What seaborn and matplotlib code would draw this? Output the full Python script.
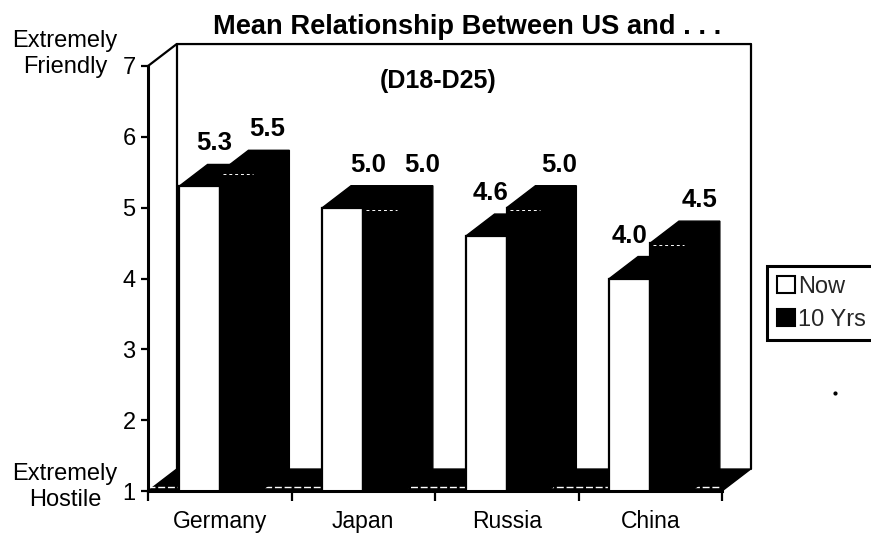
import matplotlib
matplotlib.use("Agg")
import matplotlib.pyplot as plt
import pandas as pd
import seaborn as sns
from matplotlib.lines import Line2D
from matplotlib.patches import Patch, Polygon

countries = ["Germany", "Japan", "Russia", "China"]
now_values = [5.3, 5.0, 4.6, 4.0]
ten_yr_values = [5.5, 5.0, 5.0, 4.5]
series_names = ["Now", "10 Yrs"]
y_ticks = [1, 2, 3, 4, 5, 6, 7]

# hand placed value labels, pixels right of each bar centre
now_label_dx = [15, 25, 4, 0]
ten_yr_label_dx = [27, 38, 32, 29]

W, H = 871, 533
DEPTH_X = 0.2
DEPTH_Y = 0.31
FLOOR = 1
TOP = 7

df = pd.DataFrame({
    "country": countries * 2,
    "value": now_values + ten_yr_values,
    "series": [series_names[0]] * 4 + [series_names[1]] * 4,
})

sns.set_theme(style="ticks")
plt.rcParams["font.family"] = ["Liberation Sans", "DejaVu Sans"]

fig = plt.figure(figsize=(W / 100, H / 100), dpi=100)
ax = fig.add_axes([148 / W, (H - 491) / H, 574 / W, 425 / H])

sns.barplot(
    data=df, x="country", y="value", hue="series", hue_order=series_names,
    palette=["white", "black"], width=0.57, gap=0, dodge=True,
    edgecolor="black", linewidth=1.6, legend=False, ax=ax, zorder=4,
)
ax.set_xlim(-0.5, 3.5)
ax.set_ylim(FLOOR, TOP)

# floor and back wall outline
ax.add_patch(Polygon(
    [(-0.5, FLOOR), (-0.5 + DEPTH_X, FLOOR + DEPTH_Y),
     (3.5 + DEPTH_X, FLOOR + DEPTH_Y), (3.5, FLOOR)],
    closed=True, fc="black", ec="black", lw=1, clip_on=False, zorder=1,
))
ax.plot([-0.5 + DEPTH_X] * 2, [FLOOR + DEPTH_Y, TOP + DEPTH_Y], color="black", lw=1.6, clip_on=False, zorder=1)
ax.plot([3.5 + DEPTH_X] * 2, [FLOOR + DEPTH_Y, TOP + DEPTH_Y], color="black", lw=1.6, clip_on=False, zorder=1)
ax.plot([-0.5, -0.5 + DEPTH_X, 3.5 + DEPTH_X], [TOP, TOP + DEPTH_Y, TOP + DEPTH_Y],
        color="black", lw=1.6, clip_on=False, zorder=1)

# white rim along the front of the floor
ax.plot([-0.5, 3.5], [FLOOR + 0.05] * 2, color="white", lw=1, ls=(0, (5, 2)), zorder=2)

# 3d tops and sides, taken from the bars seaborn drew
for container, offsets in zip(ax.containers, [now_label_dx, ten_yr_label_dx]):
    for bar, off in zip(container, offsets):
        x0 = bar.get_x()
        x1 = x0 + bar.get_width()
        top = bar.get_height()
        ax.add_patch(Polygon(
            [(x0, top), (x0 + DEPTH_X, top + DEPTH_Y), (x1 + DEPTH_X, top + DEPTH_Y),
             (x1 + DEPTH_X, FLOOR + DEPTH_Y), (x1, FLOOR), (x1, top)],
            closed=True, fc="black", ec="black", lw=1, zorder=3,
        ))
        ax.annotate(
            f"{top:.1f}", xy=((x0 + x1) / 2, top + DEPTH_Y), xytext=(off, 21),
            textcoords="offset pixels", ha="center", va="center",
            fontsize=18.5, fontweight="bold", color="black", zorder=5,
        )

# pale scan streak on the front top edge of the dark bars
for bar in ax.containers[1]:
    x0 = bar.get_x()
    ax.plot([x0 + 0.02, x0 + bar.get_width() - 0.05], [bar.get_height() - 0.03] * 2,
            color="white", lw=0.7, ls=(0, (3, 3)), zorder=6)

for name in ["left", "bottom"]:
    ax.spines[name].set_linewidth(2.2)
    ax.spines[name].set_color("black")
    ax.spines[name].set_zorder(7)
sns.despine(ax=ax)

ax.set_yticks(y_ticks)
ax.tick_params(axis="y", labelsize=17, length=5, width=1.6, pad=4, colors="black")
ax.set_xticks(range(len(countries)), countries)
ax.set_xticks([-0.5, 0.5, 1.5, 2.5, 3.5], minor=True)
ax.tick_params(axis="x", which="major", labelsize=16.5, length=0, pad=14, colors="black")
ax.tick_params(axis="x", which="minor", length=7, width=1.6, colors="black")
ax.set_xlabel("")
ax.set_ylabel("")

fig.text(213 / W, 1 - 27 / H, "Mean Relationship Between US and . . .", fontsize=19.6,
         fontweight="bold", va="center", ha="left", color="black")
fig.text(438 / W, 1 - 81 / H, "(D18-D25)", fontsize=18, fontweight="bold",
         va="center", ha="center", color="black")
fig.text(65 / W, 1 - 54 / H, "Extremely\nFriendly", fontsize=17, va="center", ha="center",
         color="black", linespacing=1.2)
fig.text(65 / W, 1 - 487 / H, "Extremely\nHostile", fontsize=17, va="center", ha="center",
         color="black", linespacing=1.2)

handles = [Patch(fc="white", ec="black", lw=1.5), Patch(fc="black", ec="black", lw=1.5)]
leg = fig.legend(
    handles, series_names, loc="upper left", bbox_to_anchor=(767 / W, 1 - 266 / H),
    bbox_transform=fig.transFigure, fontsize=17, frameon=True, fancybox=False, framealpha=1,
    edgecolor="black", handlelength=0.75, handleheight=0.75, handletextpad=0.15,
    labelspacing=0.45, borderpad=0.42, borderaxespad=0,
)
leg.get_frame().set_linewidth(2.2)

# stray speck on the scanned page
fig.add_artist(Line2D([835 / W], [1 - 393 / H], marker="o", ms=2, color="black"))

fig.savefig("out.png", dpi=100)
